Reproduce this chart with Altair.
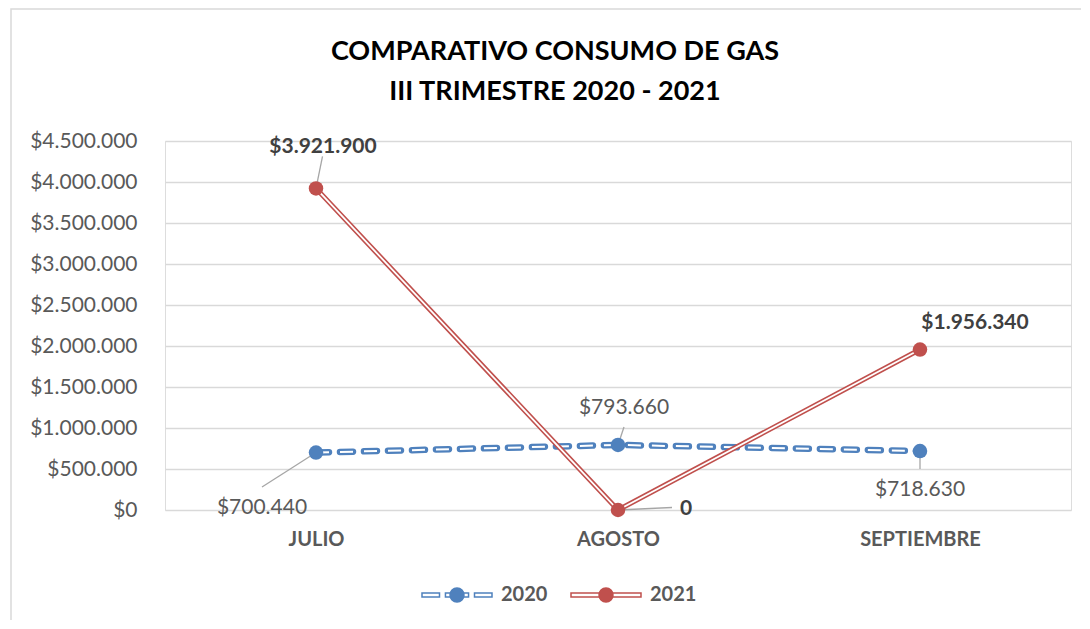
import altair as alt
import pandas as pd

# ---------------- data ----------------
months = ["JULIO", "AGOSTO", "SEPTIEMBRE"]
series = ["2020", "2021"]
values_2020 = [700440, 793660, 718630]
values_2021 = [3921900, 0, 1956340]
y_ticks = [0, 500000, 1000000, 1500000, 2000000, 2500000, 3000000, 3500000, 4000000, 4500000]
title_lines = ["COMPARATIVO CONSUMO DE GAS", "III TRIMESTRE 2020 - 2021"]

rows = []
for s, vals in zip(series, [values_2020, values_2021]):
    for m, v in zip(months, vals):
        rows.append({"mes": m, "serie": s, "valor": v})
df = pd.DataFrame(rows)

# ---------------- style ----------------
FONT = "Lato"
BLUE = "#4F81BD"
RED = "#C0504D"
GRID = "#D9D9D9"
TEXT = "#595959"
LABEL_DARK = "#404040"
LEADER = "#A6A6A6"

W, H = 906, 369
PAD = {"left": 157, "top": 133, "right": 10, "bottom": 110}

x_enc = alt.X(
    "mes:N", sort=months, title=None,
    scale=alt.Scale(type="point", domain=months, padding=0.5),
    axis=alt.Axis(domain=False, ticks=False, tickSize=0, grid=False, labelAngle=0,
                  labelFont=FONT, labelFontSize=20, labelFontWeight="bold",
                  labelColor=TEXT, labelPadding=19),
)
y_enc = alt.Y(
    "valor:Q", title=None,
    scale=alt.Scale(domain=[0, 4500000], nice=False, zero=True),
    axis=alt.Axis(values=y_ticks, format="$,.0f", domain=False, ticks=False, tickSize=0,
                  grid=True, gridColor=GRID, gridWidth=1.5,
                  labelFont=FONT, labelFontSize=21, labelColor=TEXT, labelPadding=28),
)
color_scale = alt.Scale(domain=series, range=[BLUE, RED])

# frame around the whole chart area (decoration)
frame = alt.Chart(alt.Data(values=[{"k": 1}])).mark_rect(
    fillOpacity=0, stroke=GRID, strokeWidth=1.5
).encode(x=alt.value(-154), y=alt.value(-132), x2=alt.value(1200), y2=alt.value(700))

base = alt.Chart(df)


def series_lines(s, color, outer_w, inner_w, dash=None):
    b = base.transform_filter(alt.datum.serie == s).encode(x=x_enc, y=y_enc)
    okw = dict(color=color, strokeWidth=outer_w)
    ikw = dict(color="white", strokeWidth=inner_w)
    if dash:
        okw.update(strokeDash=dash, strokeCap="round")
        ikw.update(strokeDash=dash, strokeCap="butt")
    return [b.mark_line(**okw), b.mark_line(**ikw)]


lines = series_lines("2020", BLUE, 6.5, 2, dash=[13, 11]) + series_lines("2021", RED, 5, 1.8)

points = base.mark_circle(size=210, opacity=1).encode(
    x=x_enc, y=y_enc, color=alt.Color("serie:N", scale=color_scale, legend=None)
)

# label placement: (serie, mes, dx, dy, align, weight, format, leader end offset)
label_specs = [
    ("2021", "JULIO", 7, -41, "center", "bold", "$,.0f", (6.5, -32)),
    ("2021", "AGOSTO", 62, -1, "left", "bold", ",.0f", (54, -2.5)),
    ("2021", "SEPTIEMBRE", 55, -27, "center", "bold", "$,.0f", None),
    ("2020", "JULIO", -54, 55, "center", "normal", "$,.0f", (-54, 34.5)),
    ("2020", "AGOSTO", 6, -37, "center", "normal", "$,.0f", (6, -18)),
    ("2020", "SEPTIEMBRE", 0, 39, "center", "normal", "$,.0f", (0, 18)),
]

leaders, labels = [], []
for s, m, dx, dy, align, weight, fmt, lead in label_specs:
    b = base.transform_filter((alt.datum.serie == s) & (alt.datum.mes == m))
    if lead is not None:
        leaders.append(
            b.mark_rule(color=LEADER, strokeWidth=1.3, x2Offset=lead[0], y2Offset=lead[1]).encode(
                x=x_enc, y=y_enc, x2=alt.X2("mes:N"), y2=alt.Y2("valor:Q")
            )
        )
    labels.append(
        b.mark_text(dx=dx, dy=dy, align=align, baseline="middle", font=FONT, fontSize=21,
                    fontWeight=weight, color=LABEL_DARK if weight == "bold" else TEXT).encode(
            x=x_enc, y=y_enc, text=alt.Text("valor:Q", format=fmt)
        )
    )

# legend symbols (custom paths): double line (+dashes) with a filled dot
HALF = 35.0


def u(px):
    return round(px / HALF, 4)


def rect(x0, x1, h=2.0):
    return f"M{x0},{-u(h)}H{x1}V{u(h)}H{x0}Z"


def disk(r_px=7.8):
    parts = []
    r = 0.75
    while r < r_px:
        rr = u(min(r, r_px - 0.75))
        parts.append(f"M{rr},0A{rr},{rr} 0 1,1 {-rr},0A{rr},{rr} 0 1,1 {rr},0Z")
        r += 1.25
    return "".join(parts)


path_2020 = rect(-1, -0.5) + rect(-0.33, -0.05) + rect(0.05, 0.33) + rect(0.5, 1) + disk()
path_2021 = rect(-1, 1) + disk()

legend_cfg = alt.Legend(
    orient="none", legendX=256, legendY=418, direction="horizontal", title=None,
    symbolSize=(2 * HALF) ** 2, symbolStrokeWidth=1.5, symbolOpacity=1,
    labelFont=FONT, labelFontSize=20, labelFontWeight="bold", labelColor=TEXT,
    labelOffset=8, columnPadding=20, padding=0,
)
legend_layer = base.mark_point(opacity=0, filled=False).encode(
    x=x_enc, y=y_enc,
    color=alt.Color("serie:N", scale=color_scale, legend=legend_cfg),
    shape=alt.Shape("serie:N", scale=alt.Scale(domain=series, range=[path_2020, path_2021]),
                    legend=legend_cfg),
)

chart = alt.layer(frame, *lines, *leaders, points, *labels, legend_layer).resolve_legend(
    color="independent", shape="independent"
).properties(
    width=W, height=H,
    padding=PAD,
    autosize=alt.AutoSizeParams(type="none"),
    title=alt.TitleParams(text=title_lines, anchor="middle", dx=-63, offset=-98,
                          font=FONT, fontSize=27, fontWeight="bold", color="black",
                          lineHeight=40),
).configure_view(strokeWidth=0).configure(
    locale=alt.Locale(number=alt.NumberLocale(decimal=",", thousands=".", grouping=[3],
                                               currency=["$", ""]))
)

chart.save("out.html", embed_options={"renderer": "svg", "actions": False})
